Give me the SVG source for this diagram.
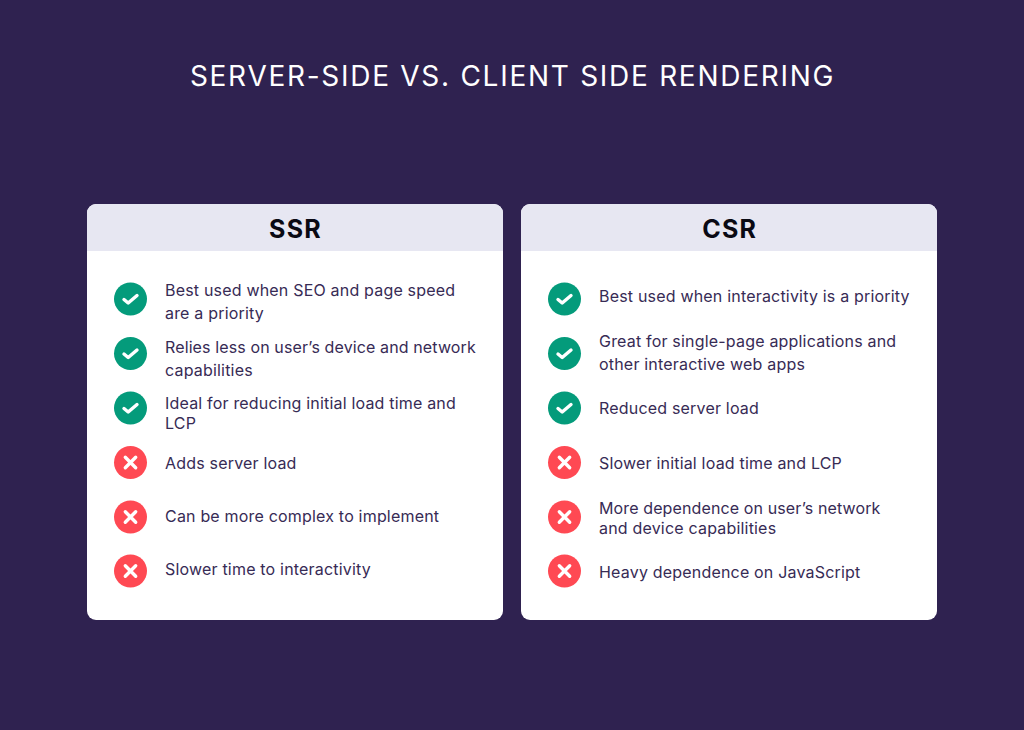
<svg xmlns="http://www.w3.org/2000/svg" width="1024" height="730" viewBox="0 0 1024 730">
<style>
text{font-family:Inter,"Liberation Sans",sans-serif}
.t{font-size:16px;fill:#372B55;letter-spacing:.19px}
.u{letter-spacing:.12px}
.h{font-size:25px;font-weight:700;fill:#0a0a14;text-anchor:middle;letter-spacing:1.2px}
.k{fill:none;stroke:#fff;stroke-width:3.4;stroke-linecap:round;stroke-linejoin:round}
</style>
<defs>
<g id="ok"><circle r="16.5" fill="#049B7B"/><path class="k" d="M-6.500 0.500L-2.300 4L6.500-3.500"/></g>
<g id="no"><circle r="16.5" fill="#FF4953"/><path class="k" d="M-5.200-5.200L5.200 5.200M5.200-5.200L-5.200 5.200"/></g>
<clipPath id="c1"><rect x="87" y="204" width="416" height="416" rx="9"/></clipPath>
<clipPath id="c2"><rect x="521" y="204" width="416" height="416" rx="9"/></clipPath>
</defs>
<rect width="1024" height="730" fill="#2F2250"/>
<text x="512.500" y="86" font-size="28" fill="#fff" text-anchor="middle" letter-spacing="1.72">SERVER-SIDE VS. CLIENT SIDE RENDERING</text>
<g id="ssr">
<rect x="87" y="204" width="416" height="416" rx="9" fill="#fff"/>
<rect x="87" y="204" width="416" height="47" fill="#E7E7F2" clip-path="url(#c1)"/>
<text class="h" x="295.500" y="237.500">SSR</text>
<use href="#ok" x="130.500" y="299"/>
<use href="#ok" x="130.500" y="353.500"/>
<use href="#ok" x="130.500" y="408"/>
<use href="#no" x="130.500" y="462.500"/>
<use href="#no" x="130.500" y="517"/>
<use href="#no" x="130.500" y="571"/>
<text class="t" x="165" y="295.500">Best used when SEO and page speed</text>
<text class="t" x="165" y="318.500">are a priority</text>
<text class="t u" x="165" y="352.500">Relies less on user’s device and network</text>
<text class="t" x="165" y="375.500">capabilities</text>
<text class="t" x="165" y="408.500">Ideal for reducing initial load time and</text>
<text class="t" x="165" y="428.500">LCP</text>
<text class="t" x="165" y="469">Adds server load</text>
<text class="t" x="165" y="522">Can be more complex to implement</text>
<text class="t" x="165" y="575">Slower time to interactivity</text>
</g>
<g id="csr">
<rect x="521" y="204" width="416" height="416" rx="9" fill="#fff"/>
<rect x="521" y="204" width="416" height="47" fill="#E7E7F2" clip-path="url(#c2)"/>
<text class="h" x="729.700" y="237.500">CSR</text>
<use href="#ok" x="564.500" y="299"/>
<use href="#ok" x="564.500" y="353.500"/>
<use href="#ok" x="564.500" y="408"/>
<use href="#no" x="564.500" y="462.500"/>
<use href="#no" x="564.500" y="517"/>
<use href="#no" x="564.500" y="571"/>
<text class="t" x="599" y="302">Best used when interactivity is a priority</text>
<text class="t" x="599" y="347">Great for single-page applications and</text>
<text class="t" x="599" y="370">other interactive web apps</text>
<text class="t" x="599" y="413.500">Reduced server load</text>
<text class="t" x="599" y="469">Slower initial load time and LCP</text>
<text class="t u" x="599" y="513.500">More dependence on user’s network</text>
<text class="t" x="599" y="533.500">and device capabilities</text>
<text class="t" x="599" y="578">Heavy dependence on JavaScript</text>
</g>
</svg>
